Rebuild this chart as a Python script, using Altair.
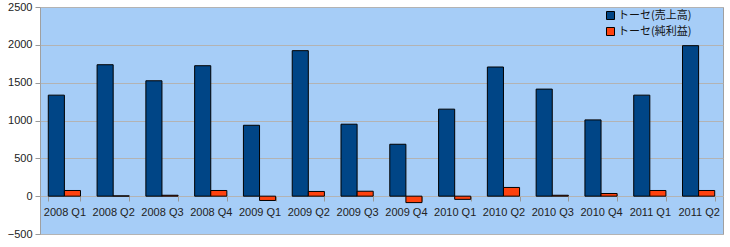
import altair as alt
import pandas as pd

quarters = ["2008 Q1", "2008 Q2", "2008 Q3", "2008 Q4",
            "2009 Q1", "2009 Q2", "2009 Q3", "2009 Q4",
            "2010 Q1", "2010 Q2", "2010 Q3", "2010 Q4",
            "2011 Q1", "2011 Q2"]
sales = [1335, 1737, 1525, 1724, 937, 1923, 951, 686, 1150, 1707, 1415, 1008, 1335, 1989]
net_income = [75, 4, 12, 75, -57, 62, 65, -85, -42, 115, 12, 35, 75, 75]
series_names = ["トーセ(売上高)", "トーセ(純利益)"]
series_colors = ["#004586", "#ff420e"]
y_ticks = [-500, 0, 500, 1000, 1500, 2000, 2500]

rows = []
for q, s, n in zip(quarters, sales, net_income):
    rows.append({"quarter": q, "series": series_names[0], "value": s})
    rows.append({"quarter": q, "series": series_names[1], "value": n})
df = pd.DataFrame(rows)

chart = alt.Chart(df).mark_bar(stroke="black", strokeWidth=1).encode(
    x=alt.X("quarter:N", sort=quarters,
            scale=alt.Scale(paddingInner=0.34, paddingOuter=0.17),
            axis=alt.Axis(title=None, labelAngle=0, offset=-38, tickBand="extent",
                          labelFont="Liberation Sans", labelFontSize=11,
                          labelColor="#222222", tickColor="#999999", tickSize=5,
                          domainColor="#b3b3b3", labelPadding=5, grid=False)),
    xOffset=alt.XOffset("series:N", sort=series_names),
    y=alt.Y("value:Q", scale=alt.Scale(domain=[-500, 2500], nice=False, zero=False),
            axis=alt.Axis(title=None, values=y_ticks, format="d", grid=True,
                          gridColor="#b3b3b3",
                          labelFont="Liberation Sans", labelFontSize=11,
                          labelColor="#222222", tickColor="#999999", tickSize=5,
                          labelPadding=3, domain=False)),
    color=alt.Color("series:N", sort=series_names,
                    scale=alt.Scale(domain=series_names, range=series_colors),
                    legend=alt.Legend(title=None, orient="none", legendX=565, legendY=3,
                                      symbolType="square", symbolSize=64,
                                      symbolStrokeColor="black", symbolStrokeWidth=1,
                                      labelFont="Noto Sans CJK JP", labelFontSize=11,
                                      labelColor="#111111", rowPadding=3,
                                      labelOffset=2)),
).properties(
    width=683, height=227,
    padding={"left": 40, "top": 7, "right": 7, "bottom": 13},
    autosize=alt.AutoSizeParams(type="none"),
    background="white",
).configure_view(fill="#a6cdf7", stroke="#a0a0a0")

chart.save("out.html", embed_options={"renderer": "svg", "actions": False})
